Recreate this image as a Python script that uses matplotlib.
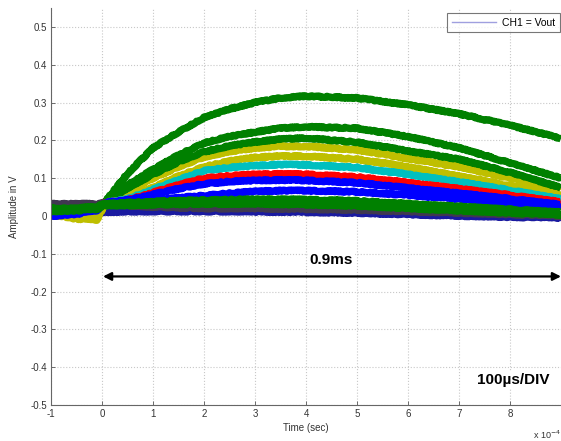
import matplotlib
matplotlib.use("Agg")
import matplotlib.pyplot as plt

plt.rcParams['font.family'] = ['Liberation Sans', 'DejaVu Sans']

# time axis (units of 1e-4 s)
t = [-1, -0.5, -0.1, 0.05, 0.5, 1, 1.5, 2, 2.5, 3, 3.5, 4, 5, 6, 7, 8, 9]

# traces (V)
n_dark   = [0.032, 0.032, 0.032, 0.033, 0.028, 0.024, 0.022, 0.020, 0.020, 0.020, 0.019, 0.018, 0.016, 0.012, 0.008, 0.004, 0.000]
n_navy   = [0.000, 0.002, 0.005, 0.010, 0.012, 0.012, 0.012, 0.012, 0.012, 0.011, 0.011, 0.010, 0.008, 0.004, 0.000, -0.003, -0.005]
y_low    = [0.005, -0.008, -0.010, 0.030, 0.048, 0.075, 0.105, 0.130, 0.145, 0.155, 0.158, 0.158, 0.150, 0.130, 0.105, 0.080, 0.055]
y_high   = [0.008, 0.000, -0.002, 0.035, 0.063, 0.100, 0.130, 0.156, 0.170, 0.180, 0.184, 0.184, 0.175, 0.152, 0.130, 0.100, 0.070]
g_top    = [0.020, 0.022, 0.028, 0.035, 0.112, 0.180, 0.222, 0.260, 0.283, 0.300, 0.312, 0.317, 0.312, 0.294, 0.270, 0.240, 0.205]
g_second = [0.018, 0.020, 0.027, 0.035, 0.082, 0.123, 0.161, 0.193, 0.210, 0.222, 0.232, 0.236, 0.232, 0.210, 0.180, 0.140, 0.100]
g_third  = [0.015, 0.018, 0.025, 0.035, 0.074, 0.110, 0.143, 0.170, 0.185, 0.196, 0.203, 0.206, 0.195, 0.172, 0.150, 0.115, 0.075]
cyan     = [0.020, 0.020, 0.025, 0.035, 0.045, 0.070, 0.095, 0.120, 0.128, 0.133, 0.136, 0.135, 0.128, 0.110, 0.090, 0.068, 0.045]
red      = [0.020, 0.020, 0.025, 0.035, 0.042, 0.062, 0.082, 0.100, 0.106, 0.110, 0.111, 0.110, 0.103, 0.088, 0.072, 0.055, 0.037]
blue_hi  = [0.008, 0.010, 0.020, 0.035, 0.042, 0.057, 0.072, 0.085, 0.091, 0.094, 0.095, 0.094, 0.088, 0.074, 0.060, 0.045, 0.030]
blue_lo  = [0.000, 0.005, 0.015, 0.033, 0.037, 0.042, 0.048, 0.054, 0.060, 0.065, 0.067, 0.067, 0.064, 0.055, 0.045, 0.033, 0.020]
g_low1   = [0.020, 0.020, 0.025, 0.032, 0.035, 0.038, 0.040, 0.042, 0.043, 0.044, 0.044, 0.043, 0.040, 0.032, 0.025, 0.017, 0.010]
g_low2   = [0.012, 0.014, 0.018, 0.028, 0.028, 0.030, 0.031, 0.032, 0.032, 0.032, 0.031, 0.030, 0.027, 0.020, 0.014, 0.008, 0.003]

traces = [
    (n_navy, '#1a1aa0'),
    (y_low, '#bfbf00'),
    (y_high, '#bfbf00'),
    (g_third, '#008000'),
    (g_second, '#008000'),
    (g_top, '#008000'),
    (cyan, '#00bfbf'),
    (red, '#ff0000'),
    (blue_hi, '#0000ff'),
    (blue_lo, '#0000ff'),
    (n_dark, '#403850'),
    (g_low1, '#008000'),
    (g_low2, '#008000'),
]

x_ticks = [-1, 0, 1, 2, 3, 4, 5, 6, 7, 8]
y_ticks = [-0.5, -0.4, -0.3, -0.2, -0.1, 0, 0.1, 0.2, 0.3, 0.4, 0.5]
y_ticklabels = ['-0.5', '-0.4', '-0.3', '-0.2', '-0.1', '0', '0.1', '0.2', '0.3', '0.4', '0.5']

fig = plt.figure(figsize=(5.61, 4.41), dpi=100)
ax = fig.add_axes([51/561, 1 - 405/441, 1 - 51/561, (405 - 8)/441])

for vals, col in traces:
    ln, = ax.plot(t, vals, color=col, lw=5.2, solid_capstyle='butt',
                  solid_joinstyle='round', zorder=2)
    ln.set_sketch_params(scale=0.6, length=1.0, randomness=1.5)

# legend proxy
leg_line, = ax.plot([], [], color='#9f9fdf', lw=1.0, label='CH1 = Vout')
leg = ax.legend(handles=[leg_line], loc='upper right', bbox_to_anchor=(1.0, 0.99),
                fontsize=7.5, frameon=True, fancybox=False, handlelength=4.2,
                borderpad=0.45, handletextpad=0.6, borderaxespad=0.1)
leg.get_frame().set_edgecolor('#555555')
leg.get_frame().set_linewidth(0.8)

ax.set_xlim(-1, 9)
ax.set_ylim(-0.5, 0.55)
ax.set_xticks(x_ticks)
ax.set_xticklabels([str(v) for v in x_ticks])
ax.set_yticks(y_ticks)
ax.set_yticklabels(y_ticklabels)
ax.tick_params(direction='in', length=3, width=0.6, labelsize=7, colors='#555555',
               labelcolor='#333333', pad=3)
ax.grid(True, color='#c8c8c8', linestyle=':', linewidth=0.8, zorder=0)
ax.set_axisbelow(True)
for s in ['top', 'right']:
    ax.spines[s].set_visible(False)
for s in ['left', 'bottom']:
    ax.spines[s].set_color('#666666')
    ax.spines[s].set_linewidth(0.8)

ax.set_xlabel('Time (sec)', fontsize=7, color='#333333', labelpad=3)
ax.set_ylabel('Amplitude in V', fontsize=7, color='#333333', labelpad=8)

fig.text(533/561, 1 - 435/441, r'x 10$^{-4}$', fontsize=6.5, color='#333333',
         ha='left', va='center')

# annotation arrow and texts
ax.annotate('', xy=(0.02, -0.16), xytext=(9.0, -0.16),
            arrowprops=dict(arrowstyle='<|-|>', color='black', lw=1.6,
                            mutation_scale=12, shrinkA=0, shrinkB=0),
            annotation_clip=False, zorder=5)
ax.text(4.5, -0.116, '0.9ms', fontsize=11, fontweight='bold', ha='center', va='center',
        bbox=dict(facecolor='white', edgecolor='none', pad=1), zorder=5)
ax.text(8.06, -0.434, '100\u00b5s/DIV', fontsize=11, fontweight='bold', ha='center',
        va='center', bbox=dict(facecolor='white', edgecolor='none', pad=1), zorder=5)

fig.savefig('out.png', dpi=100)
